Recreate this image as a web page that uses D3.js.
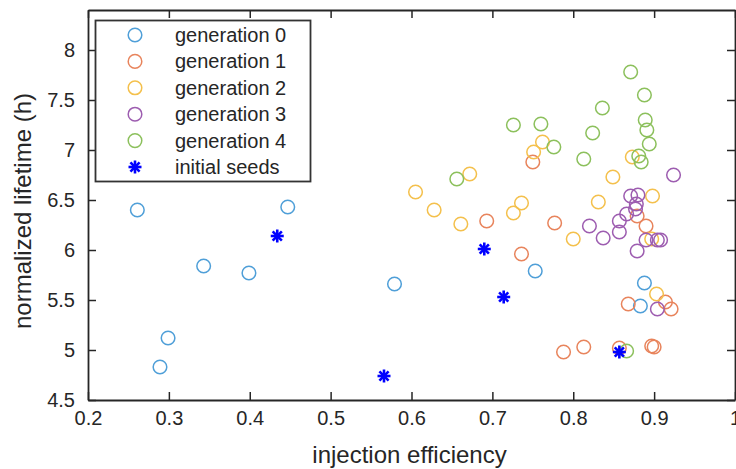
<!DOCTYPE html>
<html>
<head>
<meta charset="utf-8">
<script src="https://cdn.jsdelivr.net/npm/d3@7"></script>
<style>
  body { margin: 0; background: #fff; }
  text { font-family: "Liberation Sans", Arial, sans-serif; fill: #262626; }
</style>
</head>
<body>
<svg id="chart" width="736" height="469"></svg>
<script>
// data: [injection efficiency, normalized lifetime]
const gen0 = [[0.261, 6.40], [0.447, 6.43], [0.343, 5.84], [0.399, 5.77], [0.299, 5.12],
  [0.289, 4.83], [0.579, 5.66], [0.753, 5.79], [0.888, 5.67], [0.883, 5.44]];
const gen1 = [[0.693, 6.29], [0.777, 6.27], [0.736, 5.96], [0.788, 4.98], [0.750, 6.88],
  [0.813, 5.03], [0.868, 5.46], [0.914, 5.48], [0.921, 5.41], [0.897, 5.04], [0.900, 5.03],
  [0.857, 5.02], [0.890, 6.24], [0.879, 6.34]];
const gen2 = [[0.605, 6.58], [0.628, 6.40], [0.661, 6.26], [0.672, 6.76], [0.726, 6.37],
  [0.736, 6.47], [0.751, 6.98], [0.762, 7.08], [0.800, 6.11], [0.849, 6.73], [0.831, 6.48],
  [0.873, 6.93], [0.898, 6.54], [0.903, 5.56], [0.897, 6.11]];
const gen3 = [[0.820, 6.24], [0.837, 6.12], [0.857, 6.29], [0.857, 6.18], [0.866, 6.36],
  [0.890, 6.10], [0.904, 6.10], [0.908, 6.10], [0.879, 5.99], [0.904, 5.41], [0.924, 6.75],
  [0.871, 6.54], [0.880, 6.55], [0.878, 6.46], [0.877, 6.41]];
const gen4 = [[0.726, 7.25], [0.760, 7.26], [0.776, 7.03], [0.656, 6.71], [0.813, 6.91],
  [0.871, 7.78], [0.888, 7.55], [0.836, 7.42], [0.824, 7.17], [0.889, 7.30], [0.891, 7.20],
  [0.894, 7.06], [0.881, 6.94], [0.884, 6.88], [0.866, 4.99]];
const seeds = [[0.434, 6.14], [0.566, 4.74], [0.690, 6.01], [0.714, 5.53], [0.857, 4.98]];

const seriesNames = ["generation 0", "generation 1", "generation 2", "generation 3", "generation 4", "initial seeds"];
const seriesColors = ["#4f9fd8", "#e8845c", "#f4c04c", "#9d5db0", "#8cc05c", "#0000ff"];
const xTicks = [0.2, 0.3, 0.4, 0.5, 0.6, 0.7, 0.8, 0.9, 1];
const yTicks = [4.5, 5, 5.5, 6, 6.5, 7, 7.5, 8];

const svg = d3.select("#chart");
const plotL = 88, plotR = 735, plotT = 10, plotB = 400;

const x = d3.scaleLinear().domain([0.2, 1]).range([plotL, plotR]);
const y = d3.scaleLinear().domain([4.5, 8.4]).range([plotB, plotT]);

// points
const circleSets = [gen0, gen1, gen2, gen3, gen4];
circleSets.forEach((set, i) => {
  svg.append("g").selectAll("circle")
    .data(set)
    .join("circle")
    .attr("cx", d => x(d[0]))
    .attr("cy", d => y(d[1]))
    .attr("r", 6.8)
    .attr("fill", "none")
    .attr("stroke", seriesColors[i])
    .attr("stroke-width", 1.5);
});

// asterisk marker
function star(g, cx, cy, r, color) {
  for (let k = 0; k < 4; k++) {
    const a = k * Math.PI / 4;
    g.append("line")
      .attr("x1", cx - r * Math.cos(a)).attr("y1", cy - r * Math.sin(a))
      .attr("x2", cx + r * Math.cos(a)).attr("y2", cy + r * Math.sin(a))
      .attr("stroke", color).attr("stroke-width", 2.6);
  }
}
const seedG = svg.append("g");
seeds.forEach(d => star(seedG, x(d[0]), y(d[1]), 6.5, seriesColors[5]));

// axes (box with inward ticks)
const axisColor = "#262626";
const xBottom = svg.append("g").attr("transform", `translate(0,${plotB})`)
  .call(d3.axisBottom(x).tickValues(xTicks).tickSizeInner(-8).tickSizeOuter(0).tickPadding(11)
    .tickFormat(d => d === 1 ? "1" : d3.format(".1f")(d)));
const xTop = svg.append("g").attr("transform", `translate(0,${plotT})`)
  .call(d3.axisTop(x).tickValues(xTicks).tickSizeInner(-8).tickSizeOuter(0).tickFormat(""));
const yLeft = svg.append("g").attr("transform", `translate(${plotL},0)`)
  .call(d3.axisLeft(y).tickValues(yTicks).tickSizeInner(-8).tickSizeOuter(0).tickPadding(13)
    .tickFormat(d => d % 1 === 0 ? d3.format("d")(d) : d3.format(".1f")(d)));
const yRight = svg.append("g").attr("transform", `translate(${plotR},0)`)
  .call(d3.axisRight(y).tickValues(yTicks).tickSizeInner(-8).tickSizeOuter(0).tickFormat(""));

[xBottom, xTop, yLeft, yRight].forEach(a => {
  a.select(".domain").attr("stroke", axisColor).attr("stroke-width", 1.8);
  a.selectAll(".tick line").attr("stroke", axisColor).attr("stroke-width", 1.5);
  a.selectAll(".tick text").attr("font-size", 20).attr("fill", axisColor)
    .style("font-family", "Liberation Sans, Arial, sans-serif");
});

// axis titles
svg.append("text")
  .attr("x", (plotL + plotR) / 2 - 2)
  .attr("y", 463)
  .attr("text-anchor", "middle")
  .attr("font-size", 24)
  .text("injection efficiency");

svg.append("text")
  .attr("transform", `translate(31,${(plotT + plotB) / 2 + 6}) rotate(-90)`)
  .attr("text-anchor", "middle")
  .attr("font-size", 24)
  .text("normalized lifetime (h)");

// legend
const legend = svg.append("g");
legend.append("rect")
  .attr("x", 95.5).attr("y", 20.5).attr("width", 215).attr("height", 161)
  .attr("fill", "#fff").attr("stroke", "#333").attr("stroke-width", 1.8);

seriesNames.forEach((name, i) => {
  const cy = 35 + i * 26.4;
  if (i < 5) {
    legend.append("circle").attr("cx", 135).attr("cy", cy).attr("r", 6.8)
      .attr("fill", "none").attr("stroke", seriesColors[i]).attr("stroke-width", 1.5);
  } else {
    star(legend, 135, cy, 6.5, seriesColors[i]);
  }
  legend.append("text")
    .attr("x", 175).attr("y", cy)
    .attr("dy", "0.35em")
    .attr("font-size", 20)
    .text(name);
});
</script>
</body>
</html>
